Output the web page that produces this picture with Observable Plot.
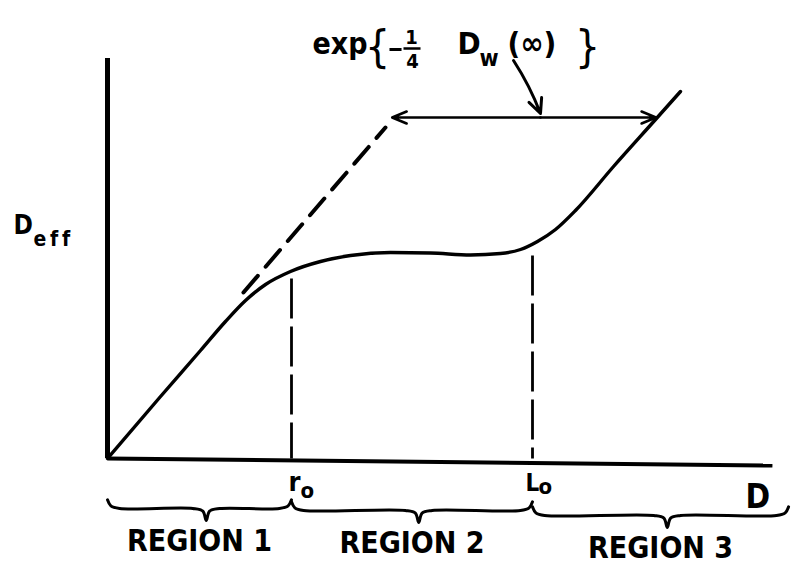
<!DOCTYPE html>
<html>
<head>
<meta charset="utf-8">
<script src="https://cdn.jsdelivr.net/npm/d3@7"></script>
<script src="https://cdn.jsdelivr.net/npm/@observablehq/plot@0.6"></script>
<style>
  html, body { margin: 0; padding: 0; background: #fff; }
  #chart svg { display: block; }
</style>
</head>
<body>
<div id="chart"></div>
<script>
// Effective diameter D_eff as a function of the diameter D (schematic, arbitrary units)
const curveD    = [0, 0.788, 1.382, 1.753, 2.051, 2.348, 2.719, 3.165, 3.611, 4.205, 4.799, 5.394, 5.84, 6.137, 6.389, 6.657, 6.954, 7.519, 8.143, 8.514];
const curveDeff = [0, 0.93, 1.62, 2.055, 2.37, 2.61, 2.805, 2.955, 3.045, 3.09, 3.083, 3.053, 3.075, 3.135, 3.255, 3.435, 3.72, 4.38, 5.085, 5.505];

// Continuation of the initial (Region 1) slope
const asymptoteD    = [2.02, 4.13];
const asymptoteDeff = [2.49, 4.965];

// Characteristic diameters and where their guide lines stop
const r0 = 2.734, L0 = 6.315;
const r0Top = 2.70, L0Top = 3.045;

// Horizontal gap exp{-D_w(inf)/4} between asymptote and curve
const gapDeff = 5.115, gapFrom = 4.23, gapTo = 8.15, gapMid = 6.434;

// Regions along the D axis
const regionNames = ["REGION 1", "REGION 2", "REGION 3"];
const regionEdges = [0, r0, L0, 10.12];
const regionLevels = [-0.75, -0.78, -0.855];

const FONT = "'DejaVu Sans Condensed', 'DejaVu Sans', sans-serif";

const curve = curveD.map((d, i) => ({D: d, Deff: curveDeff[i]}));
const asymptote = asymptoteD.map((d, i) => ({D: d, Deff: asymptoteDeff[i]}));

// Curly brace under an interval of the D axis
function brace(a, b, level, k) {
  const m = (a + b) / 2 + 0.1;
  return [
    [a, level + 0.13], [a + 0.05, level + 0.04], [a + 0.18, level],
    [m - 0.2, level], [m - 0.05, level - 0.04], [m, level - 0.18],
    [m + 0.05, level - 0.04], [m + 0.2, level],
    [b - 0.18, level], [b - 0.05, level + 0.04], [b, level + 0.13]
  ].map(([x, y]) => ({x, y, k}));
}
const braces = regionNames.flatMap((_, i) =>
  brace(regionEdges[i], regionEdges[i + 1], regionLevels[i], i));
const regions = regionNames.map((name, i) => ({
  name,
  x: (regionEdges[i] + regionEdges[i + 1]) / 2,
  y: regionLevels[i] - 0.63
}));

const T = (text, x, y, o = {}) => Plot.text([text], {
  x: [x], y: [y], text: d => d, fill: "black",
  textAnchor: "start", lineAnchor: "bottom",
  fontFamily: FONT, fontWeight: "bold", fontSize: 28, ...o
});
const bar = (x1, x2, y, w) => Plot.link([0], {x1, x2, y1: y, y2: y, stroke: "black", strokeWidth: w});

const chart = Plot.plot({
  width: 793,
  height: 563,
  marginLeft: 107,
  marginRight: 13,
  marginTop: 58,
  marginBottom: 105,
  x: {domain: [0, 10], axis: null},
  y: {domain: [0, 6], axis: null},
  style: {background: "#fff", color: "black"},
  marks: [
    // axes
    Plot.ruleX([0], {y1: 0, y2: 6, stroke: "black", strokeWidth: 5}),
    Plot.link([[9.88, -0.105]], {x1: 0, y1: 0, x2: d => d[0], y2: d => d[1], stroke: "black", strokeWidth: 4}),

    // guide lines at r0 and L0
    Plot.link([[r0, r0Top], [L0, L0Top]], {
      x1: d => d[0], x2: d => d[0], y1: d => d[1], y2: 0,
      stroke: "black", strokeWidth: 2.8, strokeDasharray: "40,8"
    }),

    // asymptote
    Plot.line(asymptote, {x: "D", y: "Deff", stroke: "black", strokeWidth: 4, strokeDasharray: "22,12"}),

    // D_eff curve
    Plot.line(curve, {x: "D", y: "Deff", curve: "monotone-x", stroke: "black", strokeWidth: 3.4}),

    // gap arrows
    Plot.arrow([gapFrom, gapTo], {
      x1: gapMid, y1: gapDeff, x2: d => d, y2: gapDeff,
      stroke: "black", strokeWidth: 2.6, headLength: 9, headAngle: 45
    }),
    Plot.arrow([0], {
      x1: 6.033, y1: 5.97, x2: gapMid, y2: 5.175, bend: 6,
      stroke: "black", strokeWidth: 3, headLength: 8, headAngle: 50
    }),

    // formula exp{-1/4 D_w(inf)}
    T("exp", 3.046, 6.075, {fontSize: 30}),
    T("{", 4.012, 6.165, {fontSize: 44, fontWeight: "normal", textAnchor: "middle", lineAnchor: "middle"}),
    bar(4.19, 4.369, 6.135, 3),
    T("1", 4.517, 6.225, {fontSize: 20, textAnchor: "middle"}),
    bar(4.398, 4.651, 6.15, 2.5),
    T("4", 4.532, 5.865, {fontSize: 20, textAnchor: "middle"}),
    T("D", 5.201, 6.075, {fontSize: 31}),
    T("w", 5.527, 5.895, {fontSize: 23}),
    T("(\u221E)", 5.944, 6.075, {fontSize: 31}),
    T("}", 7.132, 6.165, {fontSize: 44, fontWeight: "normal", textAnchor: "middle", lineAnchor: "middle"}),

    // y label D_eff
    T("D", -1.397, 3.375, {fontSize: 26}),
    T("e\u2009f\u2009f", -1.10, 3.195, {fontSize: 21}),

    // x labels
    T("r", 2.689, -0.48, {fontSize: 27}),
    T("o", 2.868, -0.585, {fontSize: 22}),
    T("L", 6.211, -0.48, {fontSize: 24}),
    T("o", 6.404, -0.525, {fontSize: 22}),
    T("D", 9.48, -0.735, {fontSize: 33}),

    // region braces and names
    Plot.line(braces, {x: "x", y: "y", z: "k", curve: "catmull-rom", stroke: "black", strokeWidth: 3}),
    Plot.text(regions, {
      x: "x", y: "y", text: "name", fill: "black", textAnchor: "middle", lineAnchor: "bottom",
      fontFamily: FONT, fontWeight: "bold", fontSize: 30
    })
  ]
});

document.getElementById("chart").appendChild(chart);
</script>
</body>
</html>
